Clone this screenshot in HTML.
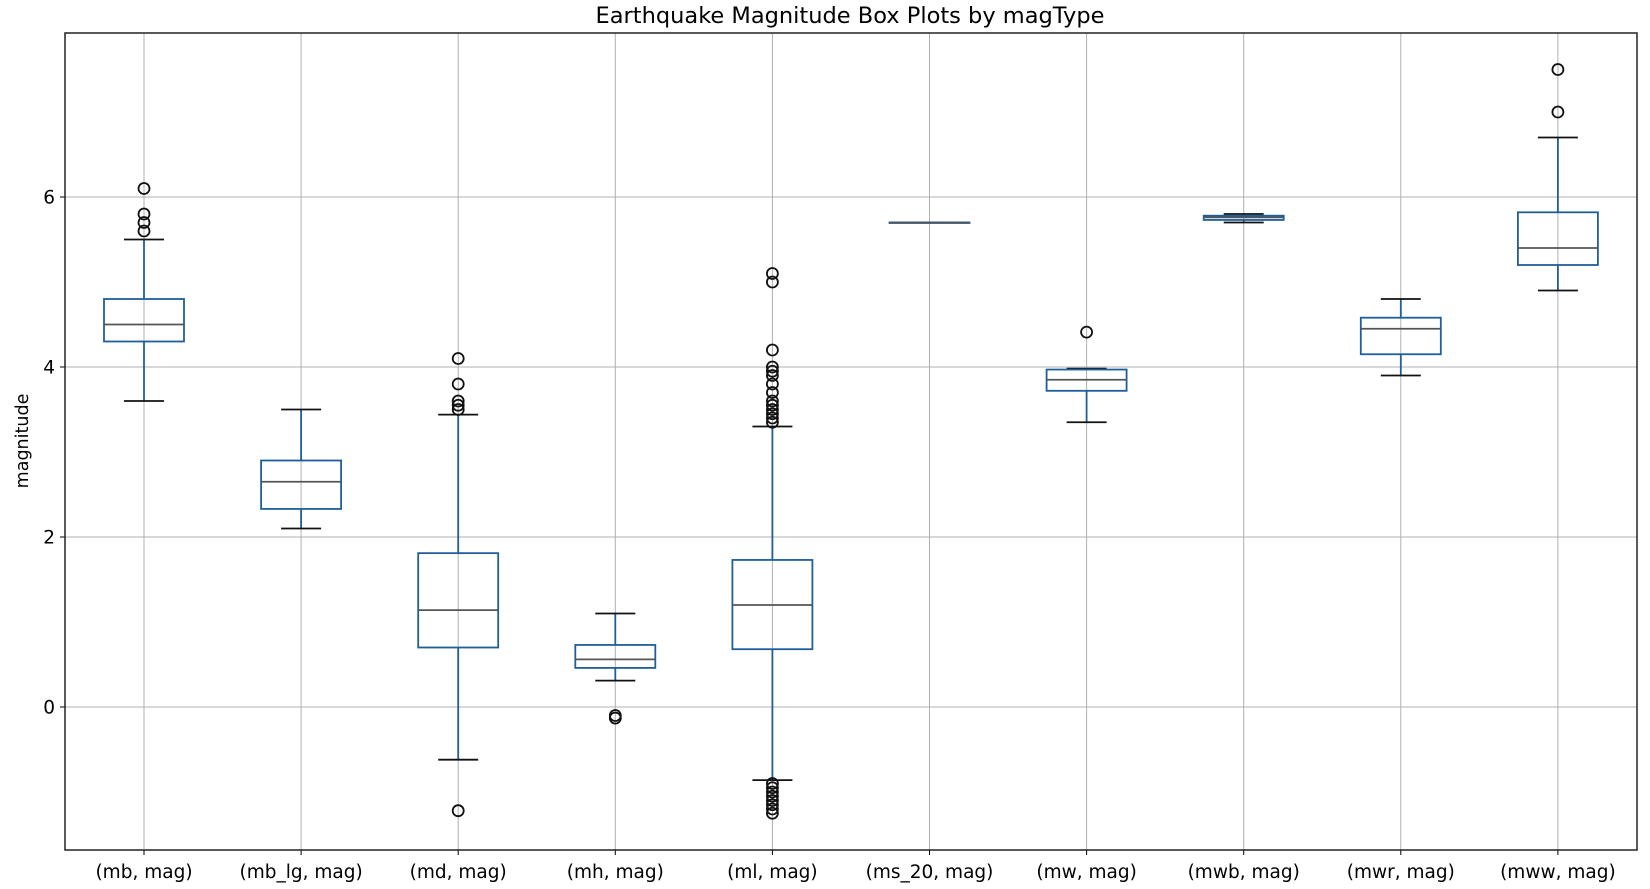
<!DOCTYPE html>
<html><head><meta charset="utf-8"><style>
body{margin:0;background:#fff;}
svg{display:block;font-family:"DejaVu Sans","Liberation Sans",sans-serif;}
</style></head><body>
<svg id="chart" width="1650" height="889">
<text x="850" y="23" text-anchor="middle" font-size="22.5" fill="#000">Earthquake Magnitude Box Plots by magType</text>
<text transform="translate(28,441) rotate(-90)" text-anchor="middle" font-size="17.5">magnitude</text>
<g id="grid"></g><g id="boxes"></g><g id="axes"></g>
</svg>
<script>
const categories=["(mb, mag)","(mb_lg, mag)","(md, mag)","(mh, mag)","(ml, mag)","(ms_20, mag)","(mw, mag)","(mwb, mag)","(mwr, mag)","(mww, mag)"];
const whiskerLow=[3.6,2.1,-0.62,0.31,-0.86,5.7,3.35,5.7,3.9,4.9];
const q1=[4.3,2.33,0.7,0.46,0.68,5.7,3.72,5.73,4.15,5.2];
const medians=[4.5,2.65,1.14,0.56,1.2,5.7,3.85,5.76,4.45,5.4];
const q3=[4.8,2.9,1.81,0.73,1.73,5.7,3.97,5.78,4.58,5.82];
const whiskerHigh=[5.5,3.5,3.44,1.1,3.3,5.7,3.98,5.8,4.8,6.7];
const fliers=[[5.6,5.7,5.8,6.1],[],[3.5,3.55,3.6,3.8,4.1,-1.22],[-0.1,-0.13],
 [3.35,3.4,3.45,3.5,3.55,3.6,3.7,3.8,3.9,3.95,4.0,4.2,5.0,5.1,-0.9,-0.95,-1.0,-1.05,-1.1,-1.15,-1.2,-1.25],
 [],[4.41],[],[],[7.0,7.5]];
const yTicks=[0,2,4,6];
const L=65,R=1637,T=33,B=850;
const y=v=>707-v*85;
const x=i=>144+i*157.1;
const NS="http://www.w3.org/2000/svg";
function mk(p,t,a){const e=document.createElementNS(NS,t);for(const k in a)e.setAttribute(k,a[k]);p.appendChild(e);return e;}
const grid=document.getElementById('grid'),boxes=document.getElementById('boxes'),axes=document.getElementById('axes');
yTicks.forEach(v=>{
 const g=mk(grid,'line',{x1:L,x2:R,y1:y(v),y2:y(v),stroke:'#b0b0b0','stroke-width':1});
 
 
 mk(axes,'line',{x1:L-5,x2:L,y1:y(v),y2:y(v),stroke:'#000'});
 const t=mk(axes,'text',{x:L-10,y:y(v)+6.5,'text-anchor':'end','font-size':18.5});
 t.textContent=v;
 
 
});
categories.forEach((c,i)=>{
 const cx=x(i);
 const g=mk(grid,'line',{x1:cx,x2:cx,y1:T,y2:B,stroke:'#b0b0b0','stroke-width':1});
 
 
 mk(axes,'line',{x1:cx,x2:cx,y1:B,y2:B+5,stroke:'#000'});
 const t=mk(axes,'text',{x:cx,y:B+28,'text-anchor':'middle','font-size':18.5});
 t.textContent=c;
 
 
 const grp=mk(boxes,'g',{});
 
 
 const blue='#1f5f99',hw=40,cw=20;
 mk(grp,'line',{x1:cx,x2:cx,y1:y(q1[i]),y2:y(whiskerLow[i]),stroke:blue,'stroke-width':1.8});
 mk(grp,'line',{x1:cx,x2:cx,y1:y(q3[i]),y2:y(whiskerHigh[i]),stroke:blue,'stroke-width':1.8});
 mk(grp,'line',{x1:cx-cw,x2:cx+cw,y1:y(whiskerLow[i]),y2:y(whiskerLow[i]),stroke:'#111','stroke-width':1.8});
 mk(grp,'line',{x1:cx-cw,x2:cx+cw,y1:y(whiskerHigh[i]),y2:y(whiskerHigh[i]),stroke:'#111','stroke-width':1.8});
 mk(grp,'rect',{x:cx-hw,y:y(q3[i]),width:2*hw,height:Math.max(0.5,y(q1[i])-y(q3[i])),fill:'none',stroke:blue,'stroke-width':1.8});
 mk(grp,'line',{x1:cx-hw,x2:cx+hw,y1:y(medians[i]),y2:y(medians[i]),stroke:'#555','stroke-width':1.8});
 fliers[i].forEach(f=>{
  const o=mk(grp,'circle',{cx:cx,cy:y(f),r:5.5,fill:'none',stroke:'#111','stroke-width':1.8});
  
  
 });
});
const fr=mk(axes,'rect',{x:L,y:T,width:R-L,height:B-T,fill:'none',stroke:'#222','stroke-width':1.5});


</script>
</body></html>
